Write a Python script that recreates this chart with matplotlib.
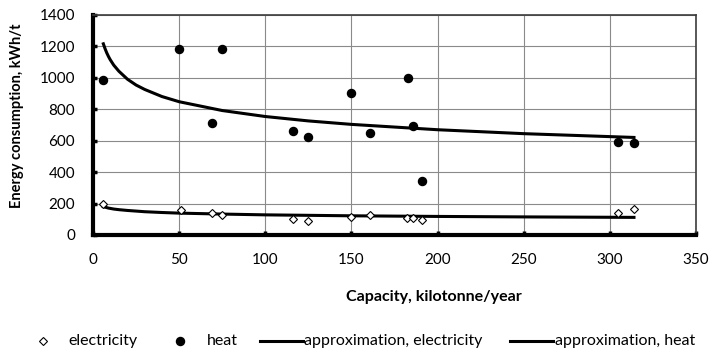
import matplotlib.pyplot as plt
from matplotlib.lines import Line2D

# --- Données ---
cap_elec = [6, 51, 69, 75, 116, 125, 150, 161, 182, 186, 191, 305, 314]
elec = [197, 160, 142, 127, 100, 91, 116, 127, 110, 110, 95, 142, 165]

cap_heat = [6, 50, 69, 75, 116, 125, 150, 161, 183, 186, 191, 305, 314]
heat = [985, 1182, 710, 1182, 661, 620, 900, 646, 995, 695, 345, 593, 586]

# courbes d'approximation (points relevés le long des tracés)
cap_fit = [6, 7, 8, 9, 10, 12, 15, 20, 25, 30, 40, 50, 75, 100, 125, 150,
           200, 250, 314]
elec_fit = [180, 177, 174, 171, 169, 165, 161, 156, 152, 148, 143, 139, 133,
            128, 125, 122, 118, 115, 112]
heat_fit = [1215, 1184, 1157, 1134, 1114, 1080, 1041, 990, 953, 925, 880, 847,
            791, 753, 725, 703, 669, 644, 620]

x_ticks = [0, 50, 100, 150, 200, 250, 300, 350]
y_ticks = [0, 200, 400, 600, 800, 1000, 1200, 1400]

legend_labels = ["electricity", "heat", "approximation, electricity",
                 "approximation, heat"]

W, H = 709, 352


def main():
    plt.rcParams["font.family"] = ["Lato", "DejaVu Sans"]
    plt.rcParams["font.size"] = 10

    fig = plt.figure(figsize=(W / 100, H / 100), dpi=100)
    ax = fig.add_axes([93 / W, 1 - 235 / H, 603 / W, 220.3 / H])

    elec_style = dict(ls="none", marker="D", ms=4.5, mfc="white",
                      mec="black", mew=0.8)
    heat_style = dict(ls="none", marker="o", ms=5.8, color="black")

    # --- Points ---
    ax.plot(cap_elec, elec, zorder=4, **elec_style)
    ax.plot(cap_heat, heat, zorder=4, **heat_style)

    # --- Approximations ---
    ax.plot(cap_fit, elec_fit, color="black", lw=2.2, zorder=3)
    ax.plot(cap_fit, heat_fit, color="black", lw=2.2, zorder=3)

    # --- Axes ---
    ax.set_xlim(0, 350)
    ax.set_ylim(0, 1400)
    ax.set_xticks(x_ticks)
    ax.set_yticks(y_ticks)
    ax.grid(True, color="#8a8a8a", lw=0.8)
    ax.set_axisbelow(True)
    ax.tick_params(direction="in", length=3, width=2.5, color="black",
                   pad=13, labelsize=11)

    for side in ("top", "right"):
        ax.spines[side].set_color("#3c3c3c")
        ax.spines[side].set_linewidth(1.2)
    for side in ("left", "bottom"):
        ax.spines[side].set_color("black")
        ax.spines[side].set_linewidth(3)

    ax.set_ylabel("Energy consumption, kWh/t", fontweight="bold", fontsize=10.5)
    ax.yaxis.set_label_coords(-0.115, 0.54)
    fig.text(434 / W, 1 - 297 / H, "Capacity, kilotonne/year",
             fontweight="bold", fontsize=11.5, ha="center", va="center")

    # --- Légende (placée à la main, comme dans Excel) ---
    ly = 1 - 341 / H
    fig.add_artist(Line2D([43 / W], [ly], **elec_style))
    fig.add_artist(Line2D([180 / W], [ly], **heat_style))
    fig.add_artist(Line2D([260 / W, 303 / W], [ly, ly], color="black", lw=2.2))
    fig.add_artist(Line2D([510 / W, 553 / W], [ly, ly], color="black", lw=2.2))
    for xpos, txt in zip([68, 207, 304, 555], legend_labels):
        fig.text(xpos / W, ly, txt, fontsize=11.5, ha="left", va="center")

    fig.savefig("out.png", dpi=100)


if __name__ == "__main__":
    main()
